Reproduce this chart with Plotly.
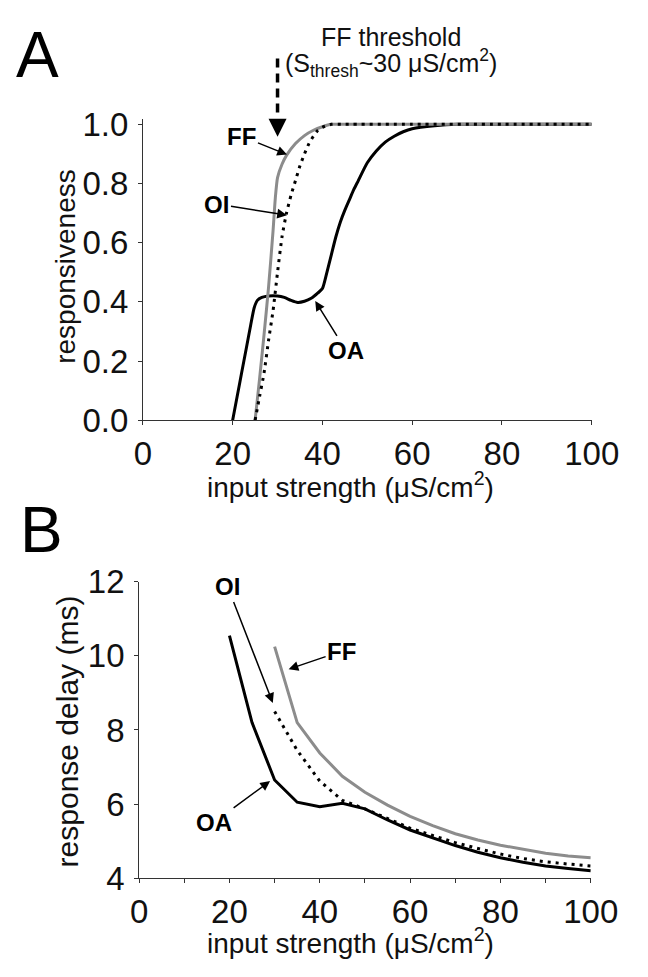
import plotly.graph_objects as go

# ---------------- data: panel A (responsiveness) ----------------
ff_a_x = [25, 26, 27, 28, 29, 29.5, 30, 31, 32, 34, 36, 38, 40, 42, 45, 60, 80, 100]
ff_a_y = [0, 0.14, 0.29, 0.45, 0.64, 0.75, 0.82, 0.865, 0.895, 0.935, 0.962, 0.98, 0.992, 1.0, 1.0, 1.0, 1.0, 1.0]

oi_a_x = [25, 26, 27, 28, 29, 30, 31, 32, 33, 34, 35, 36, 37, 38, 39, 40, 42, 45, 60, 80, 100]
oi_a_y = [0, 0.08, 0.16, 0.27, 0.37, 0.5, 0.62, 0.7, 0.76, 0.81, 0.86, 0.9, 0.935, 0.96, 0.98, 0.99, 1.0, 1.0, 1.0, 1.0, 1.0]

oa_a_x = [20, 21, 22, 23, 24, 24.8, 25.5, 26.5, 28, 30, 31.5, 33, 34.5, 36, 37.5, 39, 40, 41, 42, 43, 44,
          45, 46, 47, 48, 50, 52, 54, 56, 58, 60, 65, 70, 80, 100]
oa_a_y = [0, 0.08, 0.16, 0.24, 0.32, 0.38, 0.405, 0.415, 0.42, 0.42, 0.415, 0.405, 0.398, 0.402, 0.412, 0.43,
          0.445, 0.5, 0.56, 0.62, 0.67, 0.71, 0.745, 0.78, 0.81, 0.87, 0.91, 0.94, 0.96, 0.975, 0.985, 0.995,
          1.0, 1.0, 1.0]

# ---------------- data: panel B (response delay, ms) ----------------
oa_b_x = [20, 25, 30, 35, 40, 45, 50, 55, 60, 65, 70, 75, 80, 85, 90, 95, 100]
oa_b_y = [10.55, 8.2, 6.65, 6.05, 5.93, 6.02, 5.87, 5.57, 5.3, 5.08, 4.88, 4.7, 4.55, 4.43, 4.33, 4.26, 4.2]

oi_b_x = [30, 35, 40, 45, 50, 55, 60, 65, 70, 75, 80, 85, 90, 95, 100]
oi_b_y = [8.5, 7.45, 6.62, 6.1, 5.87, 5.6, 5.35, 5.15, 4.96, 4.8, 4.65, 4.53, 4.44, 4.38, 4.33]

ff_b_x = [30, 35, 40, 45, 50, 55, 60, 65, 70, 75, 80, 85, 90, 95, 100]
ff_b_y = [10.25, 8.2, 7.38, 6.75, 6.32, 5.97, 5.67, 5.42, 5.2, 5.03, 4.89, 4.77, 4.67, 4.6, 4.55]

x_ticks = [0, 20, 40, 60, 80, 100]
a_ticks = [0.0, 0.2, 0.4, 0.6, 0.8, 1.0]
a_tick_text = ["0.0", "0.2", "0.4", "0.6", "0.8", "1.0"]
b_ticks = [4, 6, 8, 10, 12]
FF_THRESH = 30

GRAY = "#8c8c8c"
FONT = "Liberation Sans, Arial, sans-serif"
W, H = 648, 977

fig = go.Figure()

def add(x, y, color, dash, xa, ya):
    fig.add_trace(go.Scatter(x=x, y=y, mode="lines", xaxis=xa, yaxis=ya,
                             line=dict(color=color, width=3, dash=dash, shape="spline", smoothing=0.6),
                             showlegend=False, hoverinfo="skip"))

add(oa_a_x, oa_a_y, "black", "solid", "x", "y")
add(ff_a_x, ff_a_y, GRAY, "solid", "x", "y")
add(oi_a_x, oi_a_y, "black", "3px,5px", "x", "y")

def addb(x, y, color, dash):
    fig.add_trace(go.Scatter(x=x, y=y, mode="lines", xaxis="x2", yaxis="y2",
                             line=dict(color=color, width=3, dash=dash),
                             showlegend=False, hoverinfo="skip"))

addb(ff_b_x, ff_b_y, GRAY, "solid")
addb(oi_b_x, oi_b_y, "black", "3px,5px")
addb(oa_b_x, oa_b_y, "black", "solid")

axis_common = dict(showgrid=False, zeroline=False, showline=True, linecolor="#333", linewidth=1,
                   ticks="outside", ticklen=4, tickcolor="#333", tickwidth=1,
                   tickfont=dict(family=FONT, size=33, color="#111"))

fig.update_layout(
    width=W, height=H, margin=dict(l=0, r=0, t=0, b=0), autosize=False,
    paper_bgcolor="white", plot_bgcolor="white",
    xaxis=dict(axis_common, domain=[142 / W, 618 / W], range=[0, 100], tickvals=x_ticks,
               anchor="y"),
    yaxis=dict(axis_common, domain=[(H - 418) / H, (H - 105) / H], range=[0, 1.018],
               tickvals=a_ticks, ticktext=a_tick_text, anchor="x", ticklabelstandoff=3),
    xaxis2=dict(axis_common, domain=[138 / W, 617 / W], range=[0, 100], tickvals=x_ticks,
                minor=dict(dtick=10, ticks="outside", ticklen=4, tickcolor="#333"),
                anchor="y2"),
    yaxis2=dict(axis_common, domain=[(H - 894) / H, (H - 586) / H], range=[4, 12],
                tickvals=b_ticks, anchor="x2", ticklabelstandoff=3),
)

ann = []
def text(t, x, y, size, angle=0, color="#111"):
    ann.append(dict(text=t, xref="paper", yref="paper", x=x / W, y=(H - y) / H,
                    xanchor="center", yanchor="middle", textangle=angle, showarrow=False,
                    font=dict(family=FONT, size=size, color=color)))

# axis titles
text("input strength (μS/cm<sup>2</sup>)", 362, 485, 28)
text("input strength (μS/cm<sup>2</sup>)", 362, 959, 28)
text("responsiveness", 60, 258, 28, -90)
text("response delay (ms)", 62, 741, 30, -90)
# panel letters
text("A", 30, 38, 64, color="black")
text("B", 34, 532, 64, color="black")
# FF threshold text
text("FF threshold", 405, 20, 25)
text("(S<sub>thresh</sub>~30 μS/cm<sup>2</sup>)", 405, 47, 25)

# threshold arrowhead
ann.append(dict(text="", xref="x", yref="y", x=FF_THRESH, y=0.958, ax=0, ay=-18,
                showarrow=True, arrowhead=2, arrowsize=1.2, arrowwidth=3, arrowcolor="black"))

lab = dict(family=FONT, size=24, color="black")
def label(txt, x, y, ax, ay, xr, yr):
    ann.append(dict(text="<b>%s</b>" % txt, xref=xr, yref=yr, x=x, y=y, ax=ax, ay=ay,
                    showarrow=True, arrowhead=2, arrowsize=1.3, arrowwidth=1.5, arrowcolor="black",
                    standoff=0, font=lab))

label("FF", 32.1, 0.898, -45, -18, "x", "y")
label("OI", 32.1, 0.693, -70, -11, "x", "y")
label("OA", 38.4, 0.403, 31, 50, "x", "y")
label("OI", 29.6, 8.73, -45, -116, "x2", "y2")
label("FF", 33.1, 9.64, 53, -18, "x2", "y2")
label("OA", 29.0, 6.62, -56, 41, "x2", "y2")

fig.update_layout(annotations=ann)

# dashed shaft of the threshold arrow
fig.add_shape(type="line", xref="x", yref="paper", x0=FF_THRESH, x1=FF_THRESH,
              y0=(H - 42) / H, y1=(H - 104) / H, line=dict(color="black", width=3.5, dash="9px,6px"))

fig.write_html("out.html", config={"responsive": False},
               post_script="document.body.style.margin='0';document.body.style.overflow='hidden';")
